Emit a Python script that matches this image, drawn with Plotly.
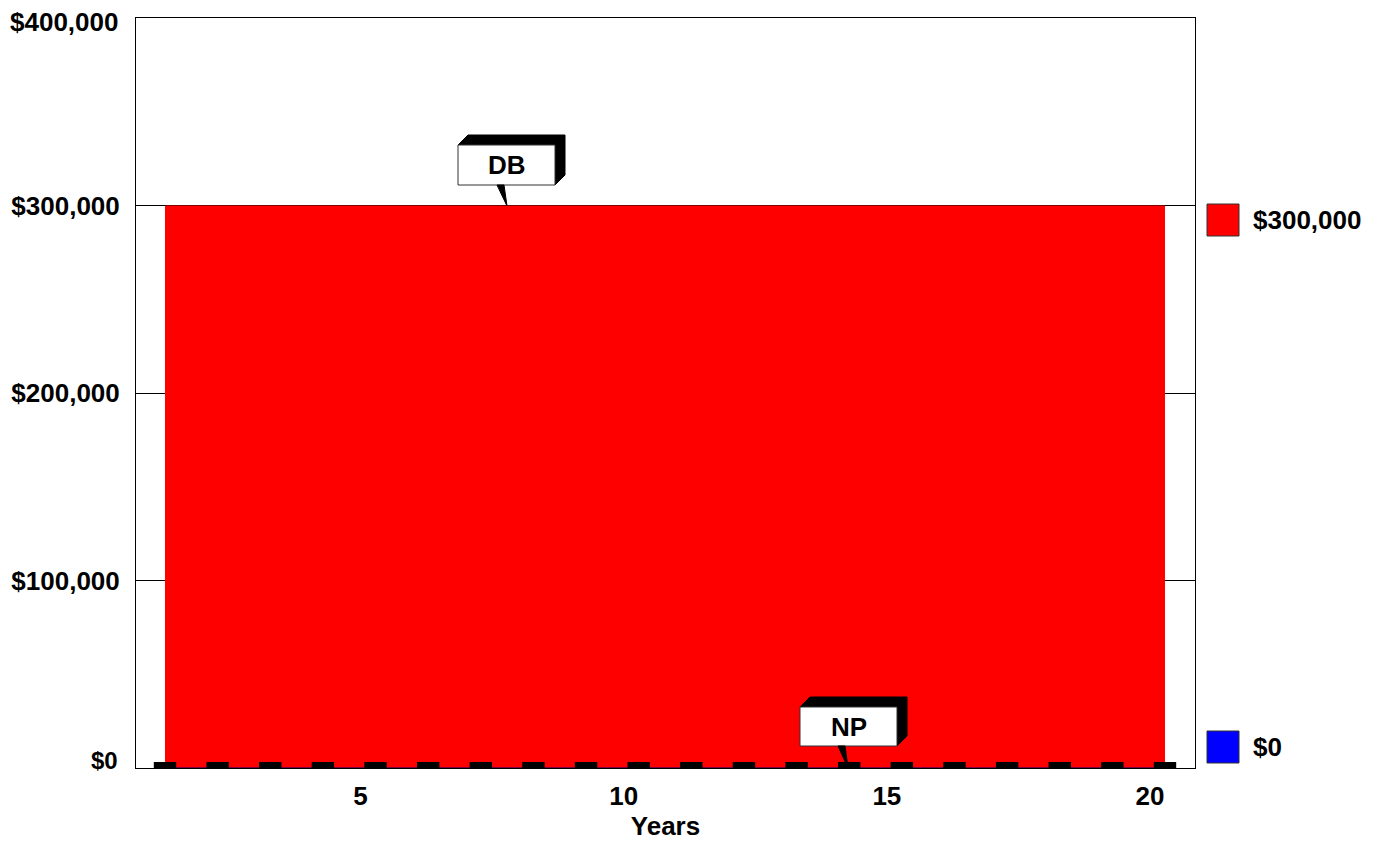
import plotly.graph_objects as go

years = list(range(1, 21))
db_values = [300000] * 20
np_values = [0] * 20
y_ticks = [0, 100000, 200000, 300000, 400000]
y_tick_text = ["$0", "$100,000", "$200,000", "$300,000", "$400,000"]
x_ticks = [5, 10, 15, 20]
legend_labels = ["$300,000", "$0"]
legend_colors = ["#ff0000", "#0000ff"]

W, H = 1379, 848
OFF = 8  # default page body margin
L, R, T, B = 136, 1195, 18, 768  # plot area in page pixels
FONT = "Liberation Sans, Arial, sans-serif"
FS = 26


def px(x):
    return (x - L) / (R - L)


def py(y):
    return (B - y) / (B - T)


fig = go.Figure()
fig.add_trace(go.Scatter(x=years, y=db_values, mode="lines", fill="tozeroy",
                         fillcolor="#ff0000", line=dict(color="#ff0000", width=0),
                         showlegend=False, hoverinfo="skip"))
fig.add_trace(go.Scatter(x=years, y=np_values, mode="lines",
                         line=dict(color="#000080", width=1),
                         showlegend=False, hoverinfo="skip"))
fig.add_trace(go.Scatter(x=years, y=np_values, mode="markers", yaxis="y2",
                         marker=dict(symbol="line-ew", size=16,
                                     line=dict(color="black", width=6)),
                         cliponaxis=False, showlegend=False, hoverinfo="skip"))

ppy = (20 - 1) / 1000.0  # units per pixel
x0 = 1 - (165 - L) * ppy
x1 = 20 + (R - 1165) * ppy
upp = 400000 / (B - T)

shapes = []
annotations = []


def callout(bx0, by0, bx1, by1, tipx, tipy, text):
    d = 10
    shapes.append(dict(type="path", xref="paper", yref="paper",
                       path=f"M{px(bx0)},{py(by0)} L{px(bx0 + d)},{py(by0 - d)} L{px(bx1 + d)},{py(by0 - d)} "
                            f"L{px(bx1 + d)},{py(by1 - d)} L{px(bx1)},{py(by1)} L{px(bx1)},{py(by0)} Z",
                       fillcolor="black", line=dict(color="black", width=1), layer="above"))
    shapes.append(dict(type="rect", xref="paper", yref="paper",
                       x0=px(bx0), x1=px(bx1), y0=py(by1), y1=py(by0),
                       fillcolor="white", line=dict(color="#333333", width=1), layer="above"))
    shapes.append(dict(type="path", xref="paper", yref="paper",
                       path=f"M{px(tipx - 10)},{py(by1)} L{px(tipx - 3)},{py(by1)} L{px(tipx)},{py(tipy)} Z",
                       fillcolor="black", line=dict(color="black", width=1), layer="above"))
    annotations.append(dict(xref="paper", yref="paper", x=px((bx0 + bx1) / 2), y=py((by0 + by1) / 2),
                            text=f"<b>{text}</b>", showarrow=False, xanchor="center", yanchor="middle",
                            font=dict(family=FONT, size=FS, color="black")))


callout(458, 145, 555, 185, 507, 206, "DB")
callout(800, 707, 897, 746, 848, 768, "NP")

legend_y = [220, 747]
for lab, col, yy in zip(legend_labels, legend_colors, legend_y):
    shapes.append(dict(type="rect", xref="paper", yref="paper",
                       x0=px(1207), x1=px(1239), y0=py(yy + 16), y1=py(yy - 16),
                       fillcolor=col, line=dict(color="#333333", width=1)))
    annotations.append(dict(xref="paper", yref="paper", x=px(1251), y=py(yy), text=f"<b>{lab}</b>",
                            showarrow=False, xanchor="left", yanchor="middle",
                            font=dict(family=FONT, size=FS, color="black")))

# end labels of the value axis are kept inside the figure, as in the original
inner_text = [t if 0 < v < 400000 else "" for v, t in zip(y_ticks, y_tick_text)]
for v, t in zip(y_ticks, y_tick_text):
    if v == 0:
        annotations.append(dict(xref="paper", yref="y", x=px(120), y=v, yshift=8,
                                text=f"<b>{t}</b>", showarrow=False, xanchor="right", yanchor="middle",
                                font=dict(family=FONT, size=24, color="black")))
    elif v == 400000:
        annotations.append(dict(xref="paper", yref="y", x=px(120), y=v, yshift=-4,
                                text=f"<b>{t}</b>", showarrow=False, xanchor="right", yanchor="middle",
                                font=dict(family=FONT, size=FS, color="black")))

fig.update_layout(
    width=W, height=H,
    margin=dict(l=L - OFF, r=W - (R - OFF), t=T - OFF, b=H - (B - OFF), pad=0, autoexpand=False),
    paper_bgcolor="white", plot_bgcolor="white",
    font=dict(family=FONT, size=FS, color="black"),
    xaxis=dict(range=[x0, x1], tickvals=x_ticks, ticktext=[f"<b>{v}</b>" for v in x_ticks],
               showgrid=False, zeroline=False, showline=True, linecolor="black", linewidth=1,
               mirror=True, ticks="", ticklen=0, automargin=False,
               ticklabelshift=-15, ticklabelstandoff=5, ticklabeloverflow="allow",
               title=dict(text="<b>Years</b>", font=dict(size=FS), standoff=0)),
    yaxis=dict(range=[0, 400000], tickvals=y_ticks, ticktext=[f"<b>{t}</b>" if t else "" for t in inner_text],
               showgrid=True, gridcolor="black", gridwidth=1, zeroline=False, automargin=False,
               showline=True, linecolor="black", linewidth=1, mirror=True, ticks="", ticklen=0,
               ticklabelstandoff=10, ticklabeloverflow="allow"),
    yaxis2=dict(overlaying="y", range=[-3 * upp, 400000 - 3 * upp], visible=False),
    shapes=shapes, annotations=annotations,
)

fig.write_html("out.html")
